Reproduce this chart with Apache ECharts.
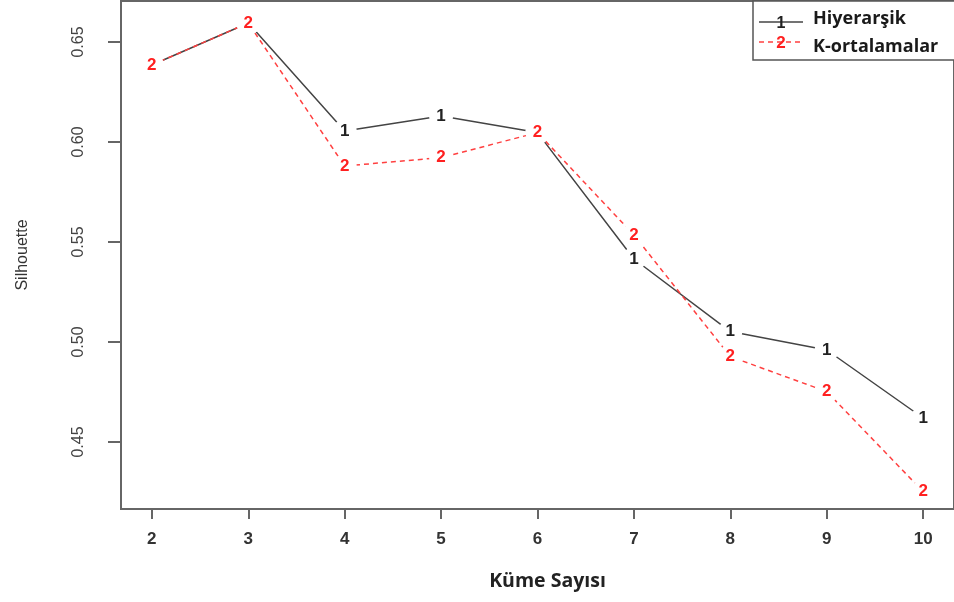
<!DOCTYPE html>
<html>
<head>
<meta charset="utf-8">
<script src="https://cdn.jsdelivr.net/npm/echarts@6/dist/echarts.min.js"></script>
<style>html,body{margin:0;padding:0;background:#fff;}#c{width:954px;height:602px;}</style>
</head>
<body>
<div id="c"></div>
<script>
const kume = [2, 3, 4, 5, 6, 7, 8, 9, 10];
const hiyerarsik = [0.6385, 0.6595, 0.6055, 0.613, 0.6047, 0.5415, 0.5052, 0.496, 0.462];
const kOrtalamalar = [0.6385, 0.6595, 0.588, 0.5922, 0.6047, 0.5535, 0.4927, 0.4752, 0.4252];
const yTicks = [0.45, 0.50, 0.55, 0.60, 0.65];
const seriesNames = ['Hiyerarşik', 'K-ortalamalar'];
const pointChars = ['1', '2'];

const chart = echarts.init(document.getElementById('c'), null, {renderer: 'canvas'});

function mkSeries(name, vals, ch, color, dashed, z) {
  return {
    name: name,
    type: 'line',
    z: z,
    data: kume.map((k, i) => [k, vals[i]]),
    symbol: 'circle',
    symbolSize: 24,
    itemStyle: {color: '#ffffff', borderWidth: 0},
    lineStyle: {color: color, width: 1.5, type: dashed ? [5, 4] : 'solid'},
    label: {
      show: true, position: 'inside', formatter: ch,
      color: dashed ? '#ff2020' : '#222', fontFamily: 'Liberation Sans',
      fontSize: 17, fontWeight: 'bold'
    },
    emphasis: {disabled: true},
    animation: false
  };
}

chart.setOption({
  animation: false,
  grid: {left: 121, top: 1, width: 836, height: 508, show: true, borderColor: '#666', borderWidth: 2, backgroundColor: 'transparent'},
  xAxis: {
    type: 'value', min: 1.68, max: 10.32,
    name: 'Küme Sayısı', nameLocation: 'middle', nameGap: 62,
    nameTextStyle: {fontFamily: 'Open Sans', fontWeight: 'bold', fontSize: 19.5, color: '#222', padding: [0, 0, 0, 20]},
    axisLine: {show: false},
    axisTick: {show: true, inside: false, length: 10, customValues: kume, lineStyle: {color: '#666', width: 2}},
    axisLabel: {customValues: kume, margin: 22, fontFamily: 'Liberation Sans', fontSize: 17, fontWeight: 'bold', color: '#333'},
    splitLine: {show: false}
  },
  yAxis: {
    type: 'value', min: 0.4165, max: 0.6705,
    name: 'Silhouette', nameLocation: 'middle', nameGap: 90, nameRotate: 90,
    nameTextStyle: {fontFamily: 'Liberation Sans', fontSize: 16, color: '#333'},
    axisLine: {show: false},
    axisTick: {show: true, inside: false, length: 13, customValues: yTicks, lineStyle: {color: '#666', width: 2}},
    axisLabel: {customValues: yTicks, rotate: 90, margin: 34, fontFamily: 'Liberation Sans', fontSize: 16, color: '#444',
      formatter: v => v.toFixed(2)},
    splitLine: {show: false}
  },
  graphic: [
    {type: 'rect', z: 100, shape: {x: 753, y: 1, width: 220, height: 59}, style: {fill: '#fff', stroke: '#555', lineWidth: 1.5}},
    {type: 'line', z: 101, shape: {x1: 759, y1: 22, x2: 803, y2: 22}, style: {stroke: '#444', lineWidth: 1.5}},
    {type: 'text', z: 102, x: 781, y: 24, style: {text: pointChars[0], font: 'bold 16px "Liberation Sans"', fill: '#222', align: 'center', verticalAlign: 'middle'}},
    {type: 'text', z: 102, x: 813, y: 19, style: {text: seriesNames[0], font: 'bold 18px "Open Sans"', fill: '#1a1a1a', align: 'left', verticalAlign: 'middle'}},
    {type: 'line', z: 101, shape: {x1: 759, y1: 42, x2: 803, y2: 42}, style: {stroke: '#ff4040', lineWidth: 1.5, lineDash: [5, 4]}},
    {type: 'text', z: 102, x: 781, y: 43, style: {text: pointChars[1], font: 'bold 17px "Liberation Sans"', fill: '#ff2020', align: 'center', verticalAlign: 'middle'}},
    {type: 'text', z: 102, x: 813, y: 47, style: {text: seriesNames[1], font: 'bold 18px "Open Sans"', fill: '#1a1a1a', align: 'left', verticalAlign: 'middle'}}
  ],
  series: [
    mkSeries(seriesNames[0], hiyerarsik, pointChars[0], '#444', false, 2),
    mkSeries(seriesNames[1], kOrtalamalar, pointChars[1], '#ff4040', true, 3)
  ]
});
</script>
</body>
</html>
